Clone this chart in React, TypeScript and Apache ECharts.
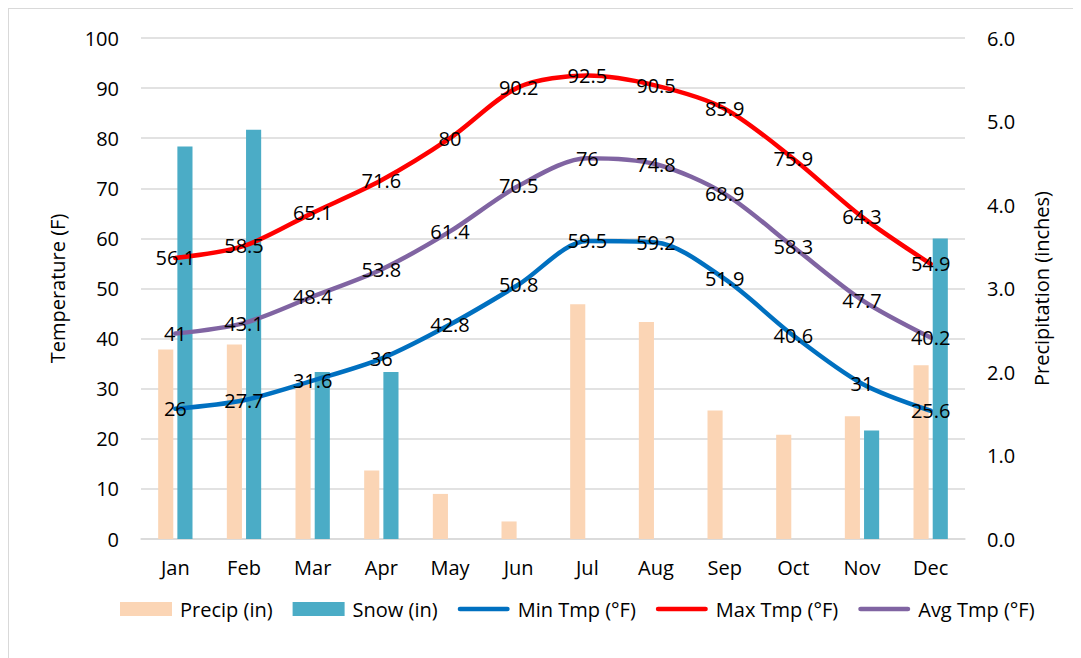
import React, { useEffect, useRef } from "react";
import * as echarts from "echarts";

const months = ["Jan", "Feb", "Mar", "Apr", "May", "Jun", "Jul", "Aug", "Sep", "Oct", "Nov", "Dec"];
const precip = [2.27, 2.33, 1.85, 0.82, 0.54, 0.21, 2.81, 2.6, 1.54, 1.25, 1.47, 2.08];
const snow = [4.7, 4.9, 2.0, 2.0, 0, 0, 0, 0, 0, 0, 1.3, 3.6];
const minTmp = [26, 27.7, 31.6, 36, 42.8, 50.8, 59.5, 59.2, 51.9, 40.6, 31, 25.6];
const maxTmp = [56.1, 58.5, 65.1, 71.6, 80, 90.2, 92.5, 90.5, 85.9, 75.9, 64.3, 54.9];
const avgTmp = [41, 43.1, 48.4, 53.8, 61.4, 70.5, 76, 74.8, 68.9, 58.3, 47.7, 40.2];

const FONT = "'Open Sans', 'Noto Sans', sans-serif";
const LINE_ICON =
  "path://M0,0L0,0M56,14L56,14M2.5,4.5H53.5A2.5,2.5,0,0,1,53.5,9.5H2.5A2.5,2.5,0,0,1,2.5,4.5Z";

export default function App() {
  const ref = useRef<HTMLDivElement>(null);
  useEffect(() => {
    if (!ref.current) return;
    const chart = echarts.init(ref.current, null, { renderer: "svg" });
    const lineLabel = {
      show: true,
      position: "inside",
      color: "#000",
      fontSize: 20,
      fontFamily: FONT,
    };
    const mkLine = (name: string, data: number[], color: string) => ({
      name,
      type: "line",
      data,
      yAxisIndex: 0,
      smooth: 0.3,
      symbol: "circle",
      symbolSize: 1,
      showSymbol: true,
      lineStyle: { color, width: 4.5, cap: "round" },
      itemStyle: { color },
      label: lineLabel,
      z: 3,
    });
    chart.setOption({
      animation: false,
      textStyle: { fontFamily: FONT },
      grid: { left: 132, right: 116, top: 29, bottom: 119 },
      legend: {
        top: 585,
        left: 106,
        itemWidth: 52,
        itemHeight: 14,
        itemGap: 20,
        textStyle: { fontSize: 20, color: "#000", fontFamily: FONT, padding: [0, 0, 0, 3] },
        data: [
          { name: "Precip (in)", icon: "rect" },
          { name: "Snow (in)", icon: "rect" },
          { name: "Min Tmp (°F)", icon: LINE_ICON },
          { name: "Max Tmp (°F)", icon: LINE_ICON },
          { name: "Avg Tmp (°F)", icon: LINE_ICON },
        ],
      },
      xAxis: {
        type: "category",
        data: months,
        axisTick: { show: false },
        axisLine: { lineStyle: { color: "#d9d9d9", width: 1.5 } },
        axisLabel: { color: "#000", fontSize: 20, margin: 18, fontFamily: FONT },
      },
      yAxis: [
        {
          type: "value",
          min: 0,
          max: 100,
          interval: 10,
          name: "Temperature (F)",
          nameLocation: "middle",
          nameGap: 74,
          nameRotate: 90,
          nameTextStyle: { color: "#000", fontSize: 20, fontFamily: FONT },
          axisLabel: { color: "#000", fontSize: 20, margin: 22, fontFamily: FONT },
          splitLine: { lineStyle: { color: "#d9d9d9", width: 1.5 } },
          axisLine: { show: false },
          axisTick: { show: false },
        },
        {
          type: "value",
          min: 0,
          max: 6,
          interval: 1,
          name: "Precipitation (inches)",
          nameLocation: "middle",
          nameGap: 66,
          nameRotate: 90,
          nameTextStyle: { color: "#000", fontSize: 20, fontFamily: FONT },
          axisLabel: {
            color: "#000",
            fontSize: 20,
            margin: 22,
            fontFamily: FONT,
            formatter: (v: number) => v.toFixed(1),
          },
          splitLine: { show: false },
          axisLine: { show: false },
          axisTick: { show: false },
        },
      ],
      series: [
        {
          name: "Precip (in)",
          type: "bar",
          yAxisIndex: 1,
          data: precip,
          itemStyle: { color: "#FBD5B5" },
          barGap: "27%",
          barCategoryGap: "50%",
          z: 2,
        },
        {
          name: "Snow (in)",
          type: "bar",
          yAxisIndex: 1,
          data: snow,
          itemStyle: { color: "#4BACC6" },
          z: 2,
        },
        mkLine("Min Tmp (°F)", minTmp, "#0070C0"),
        mkLine("Max Tmp (°F)", maxTmp, "#FF0000"),
        mkLine("Avg Tmp (°F)", avgTmp, "#8064A2"),
      ],
    });
    return () => chart.dispose();
  }, []);
  return (
    <div
      ref={ref}
      style={{
        width: 1073,
        height: 650,
        borderLeft: "1px solid #d9d9d9",
        borderTop: "1px solid #d9d9d9",
        boxSizing: "border-box",
        background: "#fff",
      }}
    />
  );
}
